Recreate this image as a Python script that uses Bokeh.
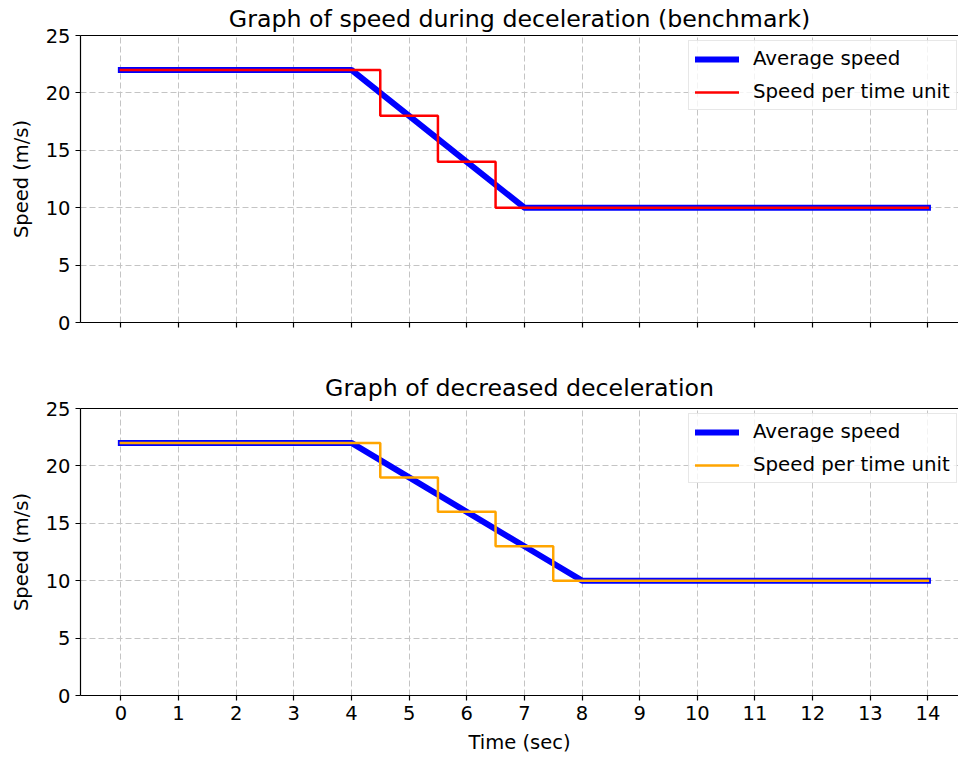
from bokeh.plotting import figure
from bokeh.layouts import column
from bokeh.models import Range1d, LinearAxis, FixedTicker, Legend, CustomJSTickFormatter
from bokeh.embed import file_html
from bokeh.resources import INLINE

# ---- data ----
time_sec = list(range(15))
avg_benchmark = [22, 22, 22, 22, 22, 18, 14, 10, 10, 10, 10, 10, 10, 10, 10]
step_benchmark = [22, 22, 22, 22, 22, 18, 14, 10, 10, 10, 10, 10, 10, 10, 10]
avg_decreased = [22, 22, 22, 22, 22, 19, 16, 13, 10, 10, 10, 10, 10, 10, 10]
step_decreased = [22, 22, 22, 22, 22, 19, 16, 13, 10, 10, 10, 10, 10, 10, 10]
y_ticks = [0, 5, 10, 15, 20, 25]
x_ticks = list(range(15))

FONT = "DejaVu Sans"


def make_panel(title, avg, step, step_color, height, b_top, b_bottom, title_standoff,
               show_x_labels):
    p = figure(width=958, height=height,
               x_range=Range1d(-0.7, 14.53), y_range=Range1d(0, 25),
               output_backend="svg", toolbar_location=None, title=title,
               min_border_left=80, min_border_right=0,
               min_border_top=b_top, min_border_bottom=b_bottom)
    p.outline_line_color = None
    p.background_fill_color = "white"
    p.border_fill_color = "white"

    p.title.text_font = FONT
    p.title.text_font_size = "23.7px"
    p.title.text_font_style = "normal"
    p.title.text_color = "#000000"
    p.title.align = "center"
    p.title.offset = 4
    p.title.standoff = title_standoff

    # axes
    p.xaxis.ticker = FixedTicker(ticks=x_ticks)
    p.yaxis.ticker = FixedTicker(ticks=y_ticks)
    for ax in (p.xaxis[0], p.yaxis[0]):
        ax.axis_line_width = 1.2
        ax.axis_line_color = "#000000"
        ax.major_tick_line_color = "#000000"
        ax.major_tick_line_width = 1.2
        ax.major_tick_out = 5
        ax.major_tick_in = 0
        ax.minor_tick_line_color = None
        ax.major_label_text_font = FONT
        ax.major_label_text_font_size = "19.5px"
        ax.major_label_text_color = "#000000"
        ax.axis_label_text_font = FONT
        ax.axis_label_text_font_size = "19.5px"
        ax.axis_label_text_font_style = "normal"
        ax.axis_label_text_color = "#000000"
        ax.major_label_standoff = 5
    p.yaxis.axis_label = "Speed (m/s)"
    p.yaxis.axis_label_standoff = 10
    if show_x_labels:
        p.xaxis.axis_label = "Time (sec)"
        p.xaxis.axis_label_standoff = 8
    else:
        p.xaxis.formatter = CustomJSTickFormatter(code="return ''")

    top_axis = LinearAxis(ticker=FixedTicker(ticks=[]), axis_line_width=1.2,
                          axis_line_color="#000000", major_tick_line_color=None,
                          minor_tick_line_color=None)
    p.add_layout(top_axis, "above")

    # grid
    for g in (p.xgrid[0], p.ygrid[0]):
        g.grid_line_color = "#c4c4c4"
        g.grid_line_dash = "6 3"
        g.grid_line_width = 1

    r1 = p.line(time_sec, avg, line_color="#0000ff", line_width=6,
                line_cap="square", line_join="round")
    r2 = p.step(time_sec, step, mode="center", line_color=step_color,
                line_width=2.5, line_cap="square")

    legend = Legend(items=[("Average speed", [r1]), ("Speed per time unit", [r2])],
                    location=(608, 212))
    legend.label_text_font = FONT
    legend.label_text_font_size = "19.8px"
    legend.label_text_color = "#000000"
    legend.glyph_width = 44
    legend.glyph_height = 20
    legend.label_standoff = 14
    legend.padding = 6
    legend.spacing = 10
    legend.margin = 0
    legend.border_line_color = "#d0d0d0"
    legend.border_line_width = 1
    legend.background_fill_color = "white"
    legend.background_fill_alpha = 0.8
    p.add_layout(legend)
    return p


p1 = make_panel("Graph of speed during deceleration (benchmark)",
                avg_benchmark, step_benchmark, "#ff0000", 340, 34, 18, 5, False)
p2 = make_panel("Graph of decreased deceleration",
                avg_decreased, step_decreased, "#ffa500", 421, 68, 66, 13, True)

layout = column(p1, p2, spacing=0)
open("out.html", "w").write(file_html(layout, INLINE))
